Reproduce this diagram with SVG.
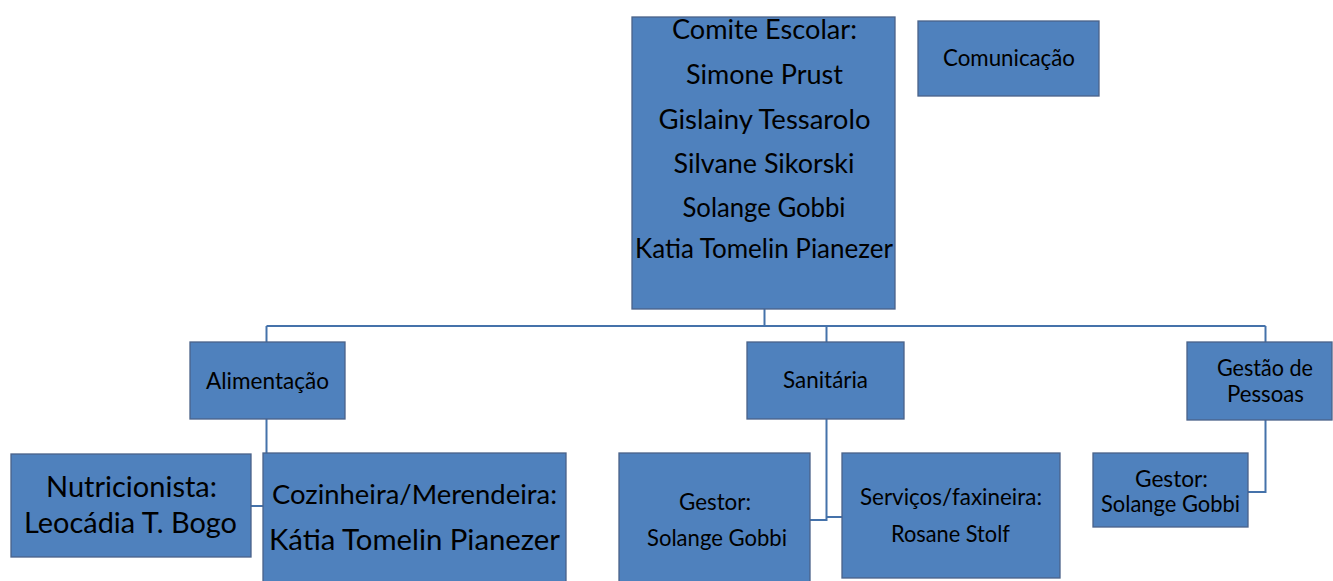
<svg xmlns="http://www.w3.org/2000/svg" width="1333" height="581" viewBox="0 0 1333 581">
<style>
.box{fill:#4F81BD;stroke:#4A6289;stroke-width:1.3}
.conn{fill:none;stroke:#4572AA;stroke-width:2}
text{font-family:Lato,"Open Sans","Liberation Sans",sans-serif;fill:#000;text-anchor:middle}
.s{font-size:22.5px}
.m{font-size:26px}
</style>
<rect width="1333" height="581" fill="#ffffff"/>
<g id="connectors">
<path class="conn" d="M764.5,309 V326"/>
<path class="conn" d="M266.5,326 H1265.5"/>
<path class="conn" d="M266.5,326 V342"/>
<path class="conn" d="M826.5,326 V342"/>
<path class="conn" d="M1265.5,326 V342"/>
<path class="conn" d="M266.5,419 V506 H251"/>
<path class="conn" d="M826.5,419 V520 H810"/>
<path class="conn" d="M826.5,517 H842"/>
<path class="conn" d="M1265.5,420 V492 H1248"/>
</g>
<g id="comite">
<rect class="box" x="632" y="17" width="263" height="292"/>
<text class="m" x="764.5" y="39" textLength="185" lengthAdjust="spacingAndGlyphs">Comite Escolar:</text>
<text class="m" x="764.5" y="84" textLength="157" lengthAdjust="spacingAndGlyphs">Simone Prust</text>
<text class="m" x="764.5" y="129" textLength="212" lengthAdjust="spacingAndGlyphs">Gislainy Tessarolo</text>
<text class="m" x="764" y="173" textLength="181" lengthAdjust="spacingAndGlyphs">Silvane Sikorski</text>
<text class="m" x="764" y="217" textLength="163" lengthAdjust="spacingAndGlyphs">Solange Gobbi</text>
<text class="m" x="764" y="258" textLength="258" lengthAdjust="spacingAndGlyphs">Katia Tomelin Pianezer</text>
</g>
<g id="comunicacao">
<rect class="box" x="918" y="21" width="181" height="75"/>
<text class="s" x="1009" y="66" textLength="132" lengthAdjust="spacingAndGlyphs">Comunicação</text>
</g>
<g id="alimentacao">
<rect class="box" x="190" y="342" width="155" height="77"/>
<text class="s" x="267.5" y="389" textLength="123" lengthAdjust="spacingAndGlyphs">Alimentação</text>
</g>
<g id="sanitaria">
<rect class="box" x="747" y="342" width="157" height="77"/>
<text class="s" x="825.5" y="388" textLength="85" lengthAdjust="spacingAndGlyphs">Sanitária</text>
</g>
<g id="gestao">
<rect class="box" x="1187" y="342" width="145" height="78"/>
<text class="s" x="1265" y="376" textLength="96" lengthAdjust="spacingAndGlyphs">Gestão de</text>
<text class="s" x="1265.5" y="402" textLength="77" lengthAdjust="spacingAndGlyphs">Pessoas</text>
</g>
<g id="nutricionista">
<rect class="box" x="11" y="454" width="240" height="103"/>
<text x="131.5" y="497" font-size="29" textLength="171" lengthAdjust="spacingAndGlyphs">Nutricionista:</text>
<text x="130.5" y="533" font-size="29" textLength="213" lengthAdjust="spacingAndGlyphs">Leocádia T. Bogo</text>
</g>
<g id="cozinheira">
<rect class="box" x="263" y="453" width="303" height="140"/>
<text x="414.5" y="504" font-size="27.5" textLength="285" lengthAdjust="spacingAndGlyphs">Cozinheira/Merendeira:</text>
<text x="414.5" y="550" font-size="29" textLength="291" lengthAdjust="spacingAndGlyphs">Kátia Tomelin Pianezer</text>
</g>
<g id="gestor-sanitaria">
<rect class="box" x="619" y="453" width="191" height="140"/>
<text class="s" x="715" y="510" textLength="72" lengthAdjust="spacingAndGlyphs">Gestor:</text>
<text class="s" x="717" y="546" textLength="140" lengthAdjust="spacingAndGlyphs">Solange Gobbi</text>
</g>
<g id="servicos">
<rect class="box" x="842" y="453" width="218" height="125"/>
<text class="s" x="951" y="505" textLength="182" lengthAdjust="spacingAndGlyphs">Serviços/faxineira:</text>
<text class="s" x="950.5" y="542" textLength="119" lengthAdjust="spacingAndGlyphs">Rosane Stolf</text>
</g>
<g id="gestor-pessoas">
<rect class="box" x="1093" y="453" width="155" height="74"/>
<text class="s" x="1171.5" y="487" textLength="73" lengthAdjust="spacingAndGlyphs">Gestor:</text>
<text class="s" x="1170.5" y="512" textLength="139" lengthAdjust="spacingAndGlyphs">Solange Gobbi</text>
</g>
</svg>
